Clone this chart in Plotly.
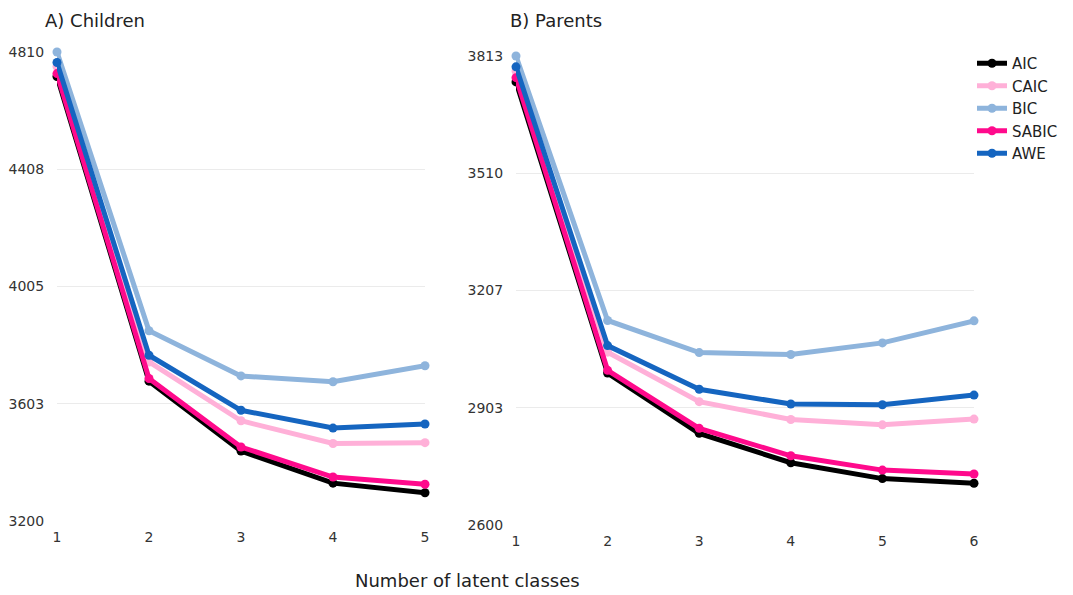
import plotly.graph_objects as go

# The page body has an 8px margin, so the figure is drawn 8px smaller and
# all positions below are given in screen pixels minus that offset.
OX, OY = 8, 8
W, H = 1073 - OX, 595 - OY


def fx(px):
    return (px - OX) / W


def fy(py):
    return 1 - (py - OY) / H


series = ["AIC", "CAIC", "BIC", "SABIC", "AWE"]
colors = {"AIC": "#000000", "CAIC": "#FFB0D8", "BIC": "#8EB4DC",
          "SABIC": "#FF0A8C", "AWE": "#1565C0"}

children_x = [1, 2, 3, 4, 5]
children = {
    "AIC":   [4726, 3680, 3440, 3330, 3297],
    "CAIC":  [4760, 3746, 3544, 3466, 3469],
    "BIC":   [4810, 3853, 3698, 3678, 3733],
    "SABIC": [4736, 3689, 3454, 3351, 3326],
    "AWE":   [4774, 3769, 3580, 3519, 3533],
}
children_ticks = [3200, 3603, 4005, 4408, 4810]

parents_x = [1, 2, 3, 4, 5, 6]
parents = {
    "AIC":   [3746, 2993, 2837, 2761, 2720, 2708],
    "CAIC":  [3774, 3047, 2919, 2873, 2859, 2874],
    "BIC":   [3813, 3129, 3046, 3041, 3071, 3128],
    "SABIC": [3757, 3000, 2850, 2779, 2742, 2732],
    "AWE":   [3785, 3064, 2951, 2913, 2911, 2936],
}
parents_ticks = [2600, 2903, 3207, 3510, 3813]

FONT = "DejaVu Sans, Liberation Sans, sans-serif"

fig = go.Figure()
for s in series:
    fig.add_trace(go.Scatter(x=children_x, y=children[s], mode="lines+markers",
                             name=s, legendgroup=s, showlegend=True,
                             line=dict(color=colors[s], width=5),
                             marker=dict(color=colors[s], size=9),
                             cliponaxis=False, xaxis="x", yaxis="y"))
for s in series:
    fig.add_trace(go.Scatter(x=parents_x, y=parents[s], mode="lines+markers",
                             name=s, legendgroup=s, showlegend=False,
                             line=dict(color=colors[s], width=5),
                             marker=dict(color=colors[s], size=9),
                             cliponaxis=False, xaxis="x2", yaxis="y2"))

tickfont = dict(family=FONT, size=14, color="#333333")
xcommon = dict(showgrid=False, zeroline=False, showline=False, ticks="outside",
               ticklen=3, tickcolor="rgba(0,0,0,0)", automargin=False,
               tickfont=tickfont, tickmode="array")
ycommon = dict(showgrid=True, gridcolor="#EBEBEB", gridwidth=1.2, zeroline=False,
               showline=False, ticks="outside", ticklen=9,
               tickcolor="rgba(0,0,0,0)", automargin=False,
               tickfont=tickfont, tickmode="array")

fig.update_layout(
    width=W, height=H,
    margin=dict(l=0, r=0, t=0, b=0, autoexpand=False),
    paper_bgcolor="white", plot_bgcolor="white",
    font=dict(family=FONT, color="#222222"),
    xaxis=dict(domain=[fx(57), fx(425)], range=[1, 5], tickvals=children_x,
               anchor="y", **xcommon),
    yaxis=dict(domain=[fy(521), fy(52)], range=[3200, 4810],
               tickvals=children_ticks, anchor="x", **ycommon),
    xaxis2=dict(domain=[fx(516), fx(974)], range=[1, 6], tickvals=parents_x,
                anchor="y2", **xcommon),
    yaxis2=dict(domain=[fy(525), fy(56)], range=[2600, 3813],
                tickvals=parents_ticks, anchor="x2", **ycommon),
    legend=dict(x=fx(972), y=fy(47), xanchor="left", yanchor="top",
                font=dict(family=FONT, size=15, color="#222222"), tracegroupgap=0,
                itemwidth=30, bgcolor="rgba(0,0,0,0)"),
    annotations=[
        dict(text="A) Children", x=fx(43), y=fy(20), xref="paper", yref="paper",
             xanchor="left", yanchor="middle", showarrow=False,
             font=dict(family=FONT, size=18, color="#222222")),
        dict(text="B) Parents", x=fx(508), y=fy(20), xref="paper", yref="paper",
             xanchor="left", yanchor="middle", showarrow=False,
             font=dict(family=FONT, size=18, color="#222222")),
        dict(text="Number of latent classes", x=fx(467), y=fy(580),
             xref="paper", yref="paper", xanchor="center", yanchor="middle",
             showarrow=False, font=dict(family=FONT, size=18, color="#222222")),
    ],
)

fig.write_html("out.html")
